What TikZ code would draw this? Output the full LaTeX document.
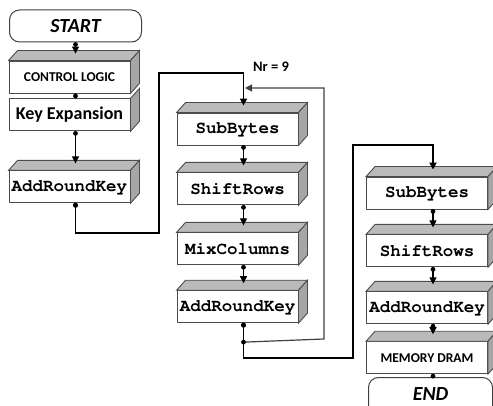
\documentclass[tikz,border=0pt]{standalone}
\usepackage{fontspec}
\setmainfont{Carlito}
\newcommand\codefont{\fontencoding{T1}\fontfamily{pcr}\selectfont}
\usetikzlibrary{positioning, arrows.meta}

\begin{document}
\begin{tikzpicture}[
    x=1pt, y=-1pt,
    >={Triangle[length=7pt,width=7pt]},
    node distance=27pt,
    term/.style={draw=black!75, line width=1pt, rounded corners=10pt,
                 fill=white, minimum width=132pt, minimum height=32pt,
                 font=\fontsize{20}{20}\selectfont\bfseries\itshape},
    blk/.style={draw=black!70, line width=0.9pt, fill=white,
                minimum width=121pt, minimum height=32pt, inner sep=1pt},
    code/.style={blk, font=\codefont\fontsize{17.5}{18}\selectfont\bfseries},
    caps/.style={blk, font=\fontsize{13.5}{14}\selectfont\bfseries},
    kexp/.style={blk, font=\fontsize{18}{18}\selectfont\bfseries},
    topface/.style={draw=black!70, line width=0.9pt, fill=black!27},
    sideface/.style={draw=black!70, line width=0.9pt, fill=black!35},
    flow/.style={->, line width=1.1pt},
    link/.style={->, line width=1.9pt},
    back/.style={->, line width=1.2pt, black!75}
]
\useasboundingbox (0,0) rectangle (493,406);

% ---- setup column ----
\node[term] (start) at (75.5,26) {START};
\node[caps] (cl) at (69.5,77) {CONTROL LOGIC};
\node[kexp, below=5pt of cl] (ke) {Key Expansion};
\node[code, below=39pt of ke] (ark1) {AddRoundKey};

% ---- round loop column ----
\node[code] (sb2) at (237.5,129) {SubBytes};
\node[code, below=of sb2] (sr2) {ShiftRows};
\node[code, below=of sr2] (mc2) {MixColumns};
\node[code, below=25pt of mc2] (ark2) {AddRoundKey};

% ---- final round column ----
\node[code] (sb3) at (427,193) {SubBytes};
\node[code, below=25pt of sb3] (sr3) {ShiftRows};
\node[code, below=24pt of sr3] (ark3) {AddRoundKey};
\node[caps, below=17pt of ark3] (mem) {MEMORY DRAM};

\begin{scope}
  \clip (0,0) rectangle (493,406);
  \node[term, anchor=north, minimum width=124pt, inner ysep=8pt,
        text height=15pt, text depth=12pt] (endn) at (430.5,377) {END};
\end{scope}

% ---- 3d faces ----
\foreach \n in {cl,ark1,sb2,sr2,mc2,ark2,sb3,sr3,ark3,mem}{%
  \draw[topface] (\n.north west) -- ++(9,-10)
      -- ([shift={(9,-10)}]\n.north east) -- (\n.north east) -- cycle;
}
\foreach \n in {cl,ke,ark1,sb2,sr2,mc2,ark2,sb3,sr3,ark3,mem}{%
  \draw[sideface] (\n.north east) -- ++(9,-10)
      -- ([shift={(9,-10)}]\n.south east) -- (\n.south east) -- cycle;
}

% ---- short connectors ----
\draw[flow] (start.south) -- ([xshift=6pt,yshift=7pt]cl.north);
\fill (start.south) ++(0,2) circle (2.4pt);
\draw[line width=1.1pt] ([xshift=6pt]cl.south) -- ([xshift=6pt]ke.north);
\fill ([xshift=6pt,yshift=-2.5pt]cl.south) circle (2.4pt);
\foreach \a/\b in {ke/ark1, sb2/sr2, sr2/mc2, mc2/ark2, sb3/sr3, sr3/ark3, ark3/mem}{%
  \draw[flow] ([xshift=6pt]\a.south) -- ([xshift=6pt,yshift=7pt]\b.north);
  \fill ([xshift=6pt,yshift=-2pt]\a.south) circle (2.4pt);
}
\draw[line width=1.1pt] ([xshift=6pt]mem.south) -- ([xshift=6pt]mem.south |- endn.north);
\fill ([xshift=6pt,yshift=-2pt]mem.south) circle (2.4pt);

% ---- links between columns ----
\coordinate (w1) at (159,233);
\coordinate (w2) at (159,73);
\coordinate (w3) at (353,358);
\coordinate (w4) at (353,145);
\draw[link] ([xshift=6pt]ark1.south) |- (w1) -- (w2) -| ([xshift=6pt,yshift=7pt]sb2.north);
\fill ([xshift=6pt,yshift=-2pt]ark1.south) circle (2.6pt);
\draw[link] ([xshift=6pt]ark2.south) |- (w3) -- (w4) -| ([xshift=6pt,yshift=7pt]sb3.north);
\fill ([xshift=6pt,yshift=-2pt]ark2.south) circle (2.6pt);

% ---- Nr rounds loop back ----
\path ([xshift=6pt]ark2.south) ++(0,19) coordinate (j);
\coordinate (v1) at (324,339);
\coordinate (v2) at (324,88);
\draw[back] (j) -- (v1) -- (v2) -- ([xshift=1.5pt]j |- v2);
\fill (j) circle (2.4pt);
\node[font=\fontsize{14.5}{15}\selectfont\bfseries] (nr) at (271,67) {Nr = 9};
\end{tikzpicture}
\end{document}
